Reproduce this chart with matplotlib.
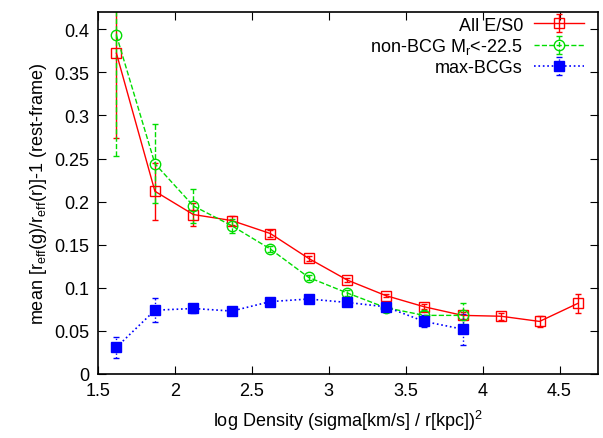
import numpy as np
from matplotlib import pyplot as plt

plt.rcParams['font.family'] = ['Liberation Sans', 'DejaVu Sans']
plt.rcParams['mathtext.fontset'] = 'custom'
plt.rcParams['mathtext.rm'] = 'Liberation Sans'
plt.rcParams['mathtext.it'] = 'Liberation Sans'

x_all = [1.62, 1.87, 2.12, 2.37, 2.62, 2.87, 3.12, 3.37, 3.62, 3.87, 4.12, 4.37, 4.62]
y_all = [0.372, 0.212, 0.185, 0.178, 0.163, 0.134, 0.109, 0.091, 0.078, 0.068, 0.067, 0.061, 0.082]
e_all = [0.098, 0.033, 0.013, 0.005, 0.004, 0.003, 0.002, 0.002, 0.003, 0.004, 0.004, 0.006, 0.011]

x_non = [1.62, 1.87, 2.12, 2.37, 2.62, 2.87, 3.12, 3.37, 3.62, 3.87]
y_non = [0.393, 0.244, 0.195, 0.172, 0.145, 0.112, 0.094, 0.077, 0.068, 0.068]
e_non = [0.14, 0.046, 0.02, 0.008, 0.003, 0.003, 0.003, 0.004, 0.005, 0.014]

x_bcg = [1.62, 1.87, 2.12, 2.37, 2.62, 2.87, 3.12, 3.37, 3.62, 3.87]
y_bcg = [0.031, 0.074, 0.076, 0.073, 0.084, 0.087, 0.083, 0.078, 0.061, 0.052]
e_bcg = [0.012, 0.014, 0.005, 0.003, 0.002, 0.002, 0.002, 0.002, 0.007, 0.018]


def main():
    fig = plt.figure(figsize=(6.03, 4.39), dpi=100)
    ax = fig.add_axes([0.1625, 0.1458, 0.8292, 0.8246])

    eb = ax.errorbar(x_all, y_all, yerr=e_all, color='#ff0000', ls='-', lw=1,
                     marker='s', ms=7, mfc='none', mew=1, capsize=2,
                     elinewidth=1, label='All E/S0')
    eb = ax.errorbar(x_non, y_non, yerr=e_non, color='#00dd00', ls='--', lw=1,
                     marker='o', ms=7.5, mfc='none', mew=1, capsize=2,
                     elinewidth=1, label='non-BCG M$_r$<-22.5')
    eb[2][0].set_linestyle('--')
    eb = ax.errorbar(x_bcg, y_bcg, yerr=e_bcg, color='#0000ff', ls=':', lw=1.2,
                     marker='s', ms=6.5, mew=1, capsize=2,
                     elinewidth=1, label='max-BCGs')
    eb[2][0].set_linestyle(':')

    ax.set_xlim(1.5, 4.75)
    ax.set_ylim(0, 0.42)
    ax.set_xticks([1.5, 2, 2.5, 3, 3.5, 4, 4.5])
    ax.set_xticklabels(['1.5', '2', '2.5', '3', '3.5', '4', '4.5'])
    ax.set_yticks([0, 0.05, 0.1, 0.15, 0.2, 0.25, 0.3, 0.35, 0.4])
    ax.set_yticklabels(['0', '0.05', '0.1', '0.15', '0.2', '0.25', '0.3', '0.35', '0.4'])
    ax.tick_params(direction='in', top=True, right=True, length=6, labelsize=13, pad=6)
    for s in ax.spines.values():
        s.set_linewidth(1.2)

    ax.set_xlabel('log Density (sigma[km/s] / r[kpc])$^2$', fontsize=13, labelpad=6)
    ax.set_ylabel('mean [r$_{eff}$(g)/r$_{eff}$(r)]-1 (rest-frame)', fontsize=13)

    ax.legend(loc='upper right', frameon=False, markerfirst=False, fontsize=13,
              handlelength=2.8, labelspacing=0.15, borderaxespad=0.0,
              borderpad=0.2, handletextpad=0.6, bbox_to_anchor=(0.98, 0.997))

    plt.savefig('out.png', dpi=100)
    plt.close()


if __name__ == "__main__":
    main()
